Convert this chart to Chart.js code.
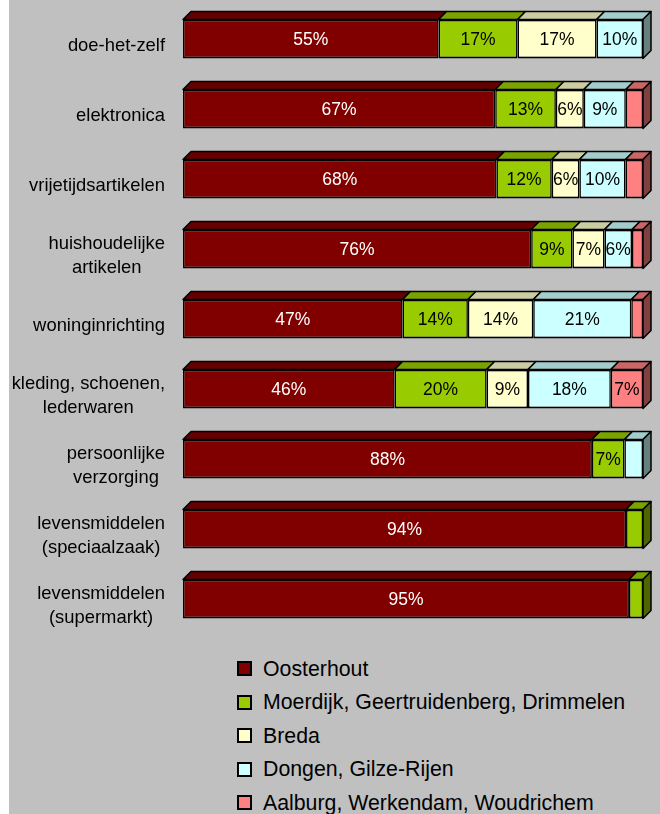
<!DOCTYPE html>
<html>
<head>
<meta charset="utf-8">
<script src="https://cdn.jsdelivr.net/npm/chart.js@4/dist/chart.umd.min.js"></script>
<style>
    body { margin: 0; background: #fff; font-family: "Liberation Sans", Arial, sans-serif; }
    #wrap { position: absolute; left: 9px; top: 0; width: 651px; height: 814px; background: #c0c0c0; overflow: hidden; }
    #chartBox { position: absolute; left: 0; top: 0; width: 651px; height: 640px; }
    .leg { position: absolute; left: 228px; height: 24px; line-height: 24px; font-size: 21.3px; color: #000; white-space: nowrap; }
    .leg span.box { position: absolute; left: 0; top: 4.5px; width: 11px; height: 11px; border: 2px solid #000; }
    .leg span.txt { position: absolute; left: 26px; top: 0; }
</style>
</head>
<body>
<div id="wrap">
    <div id="chartBox"><canvas id="retailChart"></canvas></div>
    <div id="legend"></div>
</div>
<script>
/* ===============================
   Data (raw shares per category)
=============================== */

const categories = [
    "doe-het-zelf",
    "elektronica",
    "vrijetijdsartikelen",
    ["huishoudelijke", "artikelen"],
    "woninginrichting",
    ["kleding, schoenen,", "lederwaren"],
    ["persoonlijke", "verzorging"],
    ["levensmiddelen", "(speciaalzaak)"],
    ["levensmiddelen", "(supermarkt)"]
];

const seriesNames = [
    "Oosterhout",
    "Moerdijk, Geertruidenberg, Drimmelen",
    "Breda",
    "Dongen, Gilze-Rijen",
    "Aalburg, Werkendam, Woudrichem"
];

const oosterhout = [55, 67, 68, 76, 47, 46, 88, 94, 95];
const moerdijk = [17, 13, 12, 9, 14, 20, 7, 3.6, 3];
const breda = [17, 6, 6, 7, 14, 9, 0, 0, 0];
const dongen = [10, 9, 10, 6, 21, 18, 4, 0, 0];
const aalburg = [0, 3.7, 3.8, 2.4, 2.5, 7, 0, 0, 0];

const colors = ["#800000", "#99CC00", "#FFFFCC", "#CCFFFF", "#FF8080"];

const rawSeries = [oosterhout, moerdijk, breda, dongen, aalburg];

// 100% stacked: every row is scaled to its own total
const totals = categories.map((c, i) => rawSeries.reduce((s, arr) => s + arr[i], 0));

function shade(hex, f) {
    let r = parseInt(hex.slice(1, 3), 16) * f;
    let g = parseInt(hex.slice(3, 5), 16) * f;
    let b = parseInt(hex.slice(5, 7), 16) * f;
    return "rgb(" + Math.round(r) + "," + Math.round(g) + "," + Math.round(b) + ")";
}

/* ===============================
   Plugins
=============================== */

// top + side faces, makes the bars look like blocks
const depthPlugin = {
    id: "depth",
    afterDatasetsDraw(chart) {
        const ctx = chart.ctx;
        const dx = 8, dy = 8;
        ctx.save();
        ctx.lineWidth = 1.5;
        ctx.strokeStyle = "#000";
        ctx.lineJoin = "round";
        for (let i = 0; i < categories.length; i++) {
            let last = null;
            chart.data.datasets.forEach((ds, d) => {
                const bar = chart.getDatasetMeta(d).data[i];
                const p = bar.getProps(["x", "y", "base", "height"], true);
                if (p.x - p.base < 0.5) return;
                const top = p.y - p.height / 2;
                ctx.beginPath();
                ctx.moveTo(p.base, top);
                ctx.lineTo(p.base + dx, top - dy);
                ctx.lineTo(p.x + dx, top - dy);
                ctx.lineTo(p.x, top);
                ctx.closePath();
                ctx.fillStyle = shade(colors[d], 0.8);
                ctx.fill();
                ctx.stroke();
                last = { p: p, d: d };
            });
            if (last) {
                const p = last.p;
                const top = p.y - p.height / 2;
                const bottom = p.y + p.height / 2;
                ctx.beginPath();
                ctx.moveTo(p.x, top);
                ctx.lineTo(p.x + dx, top - dy);
                ctx.lineTo(p.x + dx, bottom - dy);
                ctx.lineTo(p.x, bottom);
                ctx.closePath();
                ctx.fillStyle = shade(colors[last.d], 0.5);
                ctx.fill();
                ctx.stroke();
            }
        }
        ctx.restore();
    }
};

// value labels inside the segments
const valuePlugin = {
    id: "values",
    afterDatasetsDraw(chart) {
        const ctx = chart.ctx;
        ctx.save();
        ctx.font = '17.5px "Liberation Sans", Arial, sans-serif';
        ctx.textAlign = "center";
        ctx.textBaseline = "middle";
        chart.data.datasets.forEach((ds, d) => {
            chart.getDatasetMeta(d).data.forEach((bar, i) => {
                const raw = rawSeries[d][i];
                if (raw < 5) return;
                const p = bar.getProps(["x", "y", "base"], true);
                ctx.fillStyle = d === 0 ? "#fff" : "#000";
                ctx.fillText(Math.round(raw) + "%", (p.x + p.base) / 2, p.y + 1);
            });
        });
        ctx.restore();
    }
};

// category names, lines centred on each other, block right aligned
const categoryPlugin = {
    id: "categoryLabels",
    afterDraw(chart) {
        const ctx = chart.ctx;
        const yScale = chart.scales.y;
        ctx.save();
        ctx.font = '18.4px "Liberation Sans", Arial, sans-serif';
        ctx.fillStyle = "#000";
        ctx.textAlign = "center";
        ctx.textBaseline = "alphabetic";
        chart.data.labels.forEach((label, i) => {
            const lines = [].concat(label);
            const w = Math.max(...lines.map(l => ctx.measureText(l).width));
            const cx = chart.chartArea.left - 18 - w / 2;
            const cy = yScale.getPixelForValue(i);
            lines.forEach((line, k) => {
                ctx.fillText(line, cx, cy + 11.5 + (k - (lines.length - 1) / 2) * 24);
            });
        });
        ctx.restore();
    }
};

/* ===============================
   Chart
=============================== */

const retailCtx = document.getElementById("retailChart");

if (retailCtx) {

    new Chart(retailCtx, {

        type: "bar",

        data: {

            labels: categories,

            datasets: rawSeries.map((arr, d) => ({

                label: seriesNames[d],

                data: arr.map((v, i) => v / totals[i] * 100),

                backgroundColor: colors[d],

                borderColor: "#000",

                borderWidth: { top: 2, bottom: 2, left: 1.5, right: 1.5 },

                borderSkipped: false,

                categoryPercentage: 1,

                barPercentage: 0.557

            }))

        },

        options: {

            indexAxis: "y",

            responsive: true,

            maintainAspectRatio: false,

            animation: false,

            layout: {

                padding: { left: 174, right: 17, top: 4, bottom: 6 }

            },

            plugins: {

                legend: { display: false },

                tooltip: { enabled: false }

            },

            scales: {

                x: { stacked: true, min: 0, max: 100, display: false },

                y: { stacked: true, display: false }

            }

        },

        plugins: [depthPlugin, valuePlugin, categoryPlugin]

    });

}

/* ===============================
   Legend (one item per row)
=============================== */

const legendBox = document.getElementById("legend");

seriesNames.forEach((name, d) => {
    const row = document.createElement("div");
    row.className = "leg";
    row.style.top = (656.5 + d * 33.6) + "px";
    row.innerHTML = '<span class="box" style="background:' + colors[d] + '"></span><span class="txt">' + name + '</span>';
    legendBox.appendChild(row);
});
</script>
</body>
</html>
